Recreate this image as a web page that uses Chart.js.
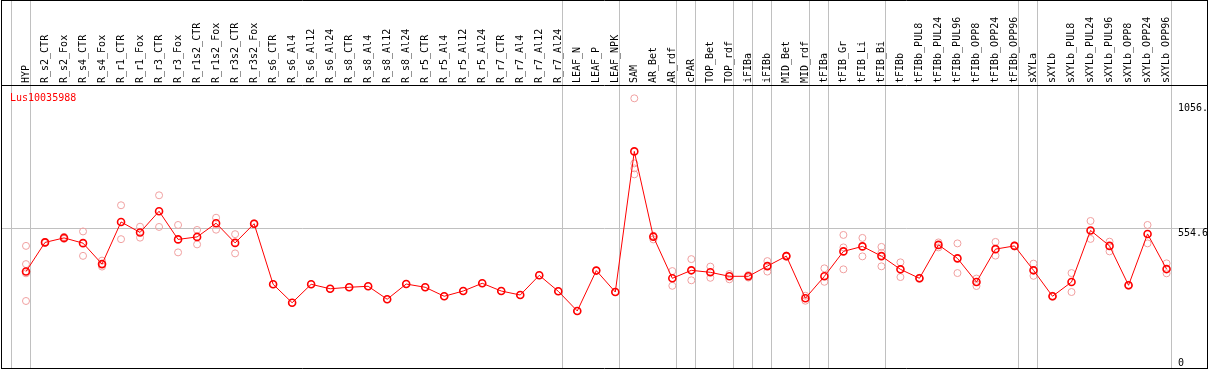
<!DOCTYPE html>
<html><head><meta charset="utf-8">
<script src="https://cdn.jsdelivr.net/npm/chart.js@4/dist/chart.umd.min.js"></script>
<style>html,body{margin:0;padding:0;background:#fff;overflow:hidden}#wrap{width:1209px;height:370px}</style>
</head><body><div id="wrap"><canvas id="c" width="1209" height="370"></canvas></div>
<script>
const chartTitle = 'Lus10035988';
const categories = ['HYP','R_s2_CTR','R_s2_Fox','R_s4_CTR','R_s4_Fox','R_r1_CTR','R_r1_Fox','R_r3_CTR','R_r3_Fox','R_r1s2_CTR','R_r1s2_Fox','R_r3s2_CTR','R_r3s2_Fox','R_s6_CTR','R_s6_Al4','R_s6_Al12','R_s6_Al24','R_s8_CTR','R_s8_Al4','R_s8_Al12','R_s8_Al24','R_r5_CTR','R_r5_Al4','R_r5_Al12','R_r5_Al24','R_r7_CTR','R_r7_Al4','R_r7_Al12','R_r7_Al24','LEAF_N','LEAF_P','LEAF_NPK','SAM','AR_Bet','AR_rdf','cPAR','TOP_Bet','TOP_rdf','iFIBa','iFIBb','MID_Bet','MID_rdf','tFIBa','tFIB_Gr','tFIB_Li','tFIB_Bi','tFIBb','tFIBb_PUL8','tFIBb_PUL24','tFIBb_PUL96','tFIBb_OPP8','tFIBb_OPP24','tFIBb_OPP96','sXYLa','sXYLb','sXYLb_PUL8','sXYLb_PUL24','sXYLb_PUL96','sXYLb_OPP8','sXYLb_OPP24','sXYLb_OPP96'];
const meanValues = [380,497,515,494,410,579,537,622,509,519,574,495,572,329,255,329,311,317,321,269,330,317,281,302,333,302,286,365,301,222,384,298,862,520,353,385,377,361,361,402,442,273,361,461,481,442,389,353,487,433,338,470,483,385,281,338,545,483,325,531,390];
const rep1 = [483,499,519,541,424,646,560,686,567,547,596,530,574,329,255,329,311,317,321,269,330,317,281,302,333,302,286,365,301,222,384,298,1075,524,382,430,400,370,366,422,444,283,393,527,515,479,417,355,497,493,352,499,485,412,283,374,583,500,327,567,413];
const rep2 = [410,495,511,443,400,510,516,559,457,489,548,453,570,null,null,null,null,null,null,null,null,null,null,null,null,null,null,null,null,null,null,null,814,509,323,345,355,349,356,380,440,263,339,477,441,455,358,351,477,374,322,444,481,363,279,298,511,461,323,493,373];
const rep3 = [373,null,null,null,null,null,null,null,null,null,null,null,null,null,null,null,null,null,null,null,null,null,null,null,null,null,null,null,null,null,null,null,794,null,null,null,null,null,null,null,null,null,null,389,null,401,null,null,null,null,null,null,null,null,null,null,null,null,null,null,null];
const rep4 = [262,null,null,null,null,null,null,null,null,null,null,null,null,null,null,null,null,null,null,null,null,null,null,null,null,null,null,null,null,null,null,null,770,null,null,null,null,null,null,null,null,null,null,null,null,null,null,null,null,null,null,null,null,null,null,null,null,null,null,null,null];
const yTickValues = [0, 554.6, 1056];
const yTickLabels = ['0', '554.6', '1056.'];
const gridValue = 554.6;
const groupEnds = [-1,0,28,31,34,35,37,38,39,41,42,45,52,53,60];

const MONO = '"DejaVu Sans Mono", "Liberation Mono", monospace';
const toPts = arr => arr.map((v, i) => (v === null ? null : {x: i, y: v})).filter(p => p);
const repStyle = {showLine:false, pointRadius:3.5, pointBorderWidth:1, pointBorderColor:'#f0a0a0', pointBackgroundColor:'rgba(0,0,0,0)', pointHoverRadius:3.5};

const decor = {
  id: 'decor',
  beforeDatasetsDraw(chart) {
    const {ctx, chartArea:a, scales:{x, y}} = chart;
    ctx.save();
    ctx.strokeStyle = '#c0c0c0';
    ctx.lineWidth = 1;
    ctx.beginPath();
    groupEnds.forEach(g => {
      const px = Math.round(x.getPixelForValue(g + 0.21)) + 0.5;
      ctx.moveTo(px, 0); ctx.lineTo(px, a.bottom);
    });
    const gy = Math.round(y.getPixelForValue(gridValue)) + 0.5;
    ctx.moveTo(a.left, gy); ctx.lineTo(chart.width - 1, gy);
    ctx.stroke();
    ctx.restore();
  },
  afterDraw(chart) {
    const {ctx, chartArea:a, scales:{y}} = chart;
    ctx.save();
    ctx.font = '10px ' + MONO;
    ctx.fillStyle = '#000';
    ctx.textAlign = 'left';
    ctx.textBaseline = 'alphabetic';
    yTickValues.forEach((v, i) => {
      let py = y.getPixelForValue(v) + 8;
      py = Math.min(py, a.bottom - 3);
      ctx.fillText(yTickLabels[i], a.right + 2, py);
    });
    ctx.fillStyle = '#ff0000';
    ctx.fillText(chartTitle, a.left + 9, a.top + 16);
    ctx.strokeStyle = '#000';
    ctx.lineWidth = 1;
    ctx.beginPath();
    ctx.moveTo(1, 0.5); ctx.lineTo(chart.width - 1, 0.5);
    ctx.moveTo(1, a.top + 0.5); ctx.lineTo(chart.width - 1, a.top + 0.5);
    ctx.moveTo(1, a.bottom - 0.5); ctx.lineTo(chart.width - 1, a.bottom - 0.5);
    ctx.moveTo(1.5, 0); ctx.lineTo(1.5, a.bottom);
    ctx.moveTo(chart.width - 1.5, 0); ctx.lineTo(chart.width - 1.5, a.bottom);
    ctx.stroke();
    ctx.restore();
  }
};

new Chart(document.getElementById('c'), {
  type: 'scatter',
  data: {
    datasets: [
      {label:'mean', data: toPts(meanValues), showLine:true, borderColor:'#ff0000', borderWidth:1, tension:0,
       pointRadius:3.5, pointBorderWidth:1.6, pointBorderColor:'#ff0000', pointBackgroundColor:'rgba(0,0,0,0)', pointHoverRadius:3.5},
      Object.assign({label:'rep1', data: toPts(rep1)}, repStyle),
      Object.assign({label:'rep2', data: toPts(rep2)}, repStyle),
      Object.assign({label:'rep3', data: toPts(rep3)}, repStyle),
      Object.assign({label:'rep4', data: toPts(rep4)}, repStyle)
    ]
  },
  options: {
    responsive:false, animation:false, devicePixelRatio:1,
    layout:{autoPadding:false, padding:{left:1, right:1, top:0, bottom:1}},
    plugins:{legend:{display:false}, tooltip:{enabled:false}, title:{display:false}},
    events: [],
    scales: {
      x: {
        type:'linear', position:'top', min:-1.315, max:60.496,
        afterBuildTicks: s => { s.ticks = categories.map((_, i) => ({value:i})); },
        afterFit: s => { s.height = 85; s.paddingLeft = 0; s.paddingRight = 0; },
        grid:{display:false, drawTicks:false}, border:{display:false},
        ticks:{autoSkip:false, minRotation:90, maxRotation:90, padding:2, labelOffset:12, color:'#000',
               font:{family:MONO, size:10}, callback: v => categories[v]}
      },
      y: {
        type:'linear', position:'right', min:-10.8, max:1128.4,
        afterBuildTicks: s => { s.ticks = yTickValues.map(v => ({value:v})); },
        afterFit: s => { s.width = 32; s.paddingTop = 0; s.paddingBottom = 0; },
        grid:{display:false, drawTicks:false}, border:{display:false},
        ticks:{display:false}
      }
    }
  },
  plugins:[decor]
});
</script></body></html>
